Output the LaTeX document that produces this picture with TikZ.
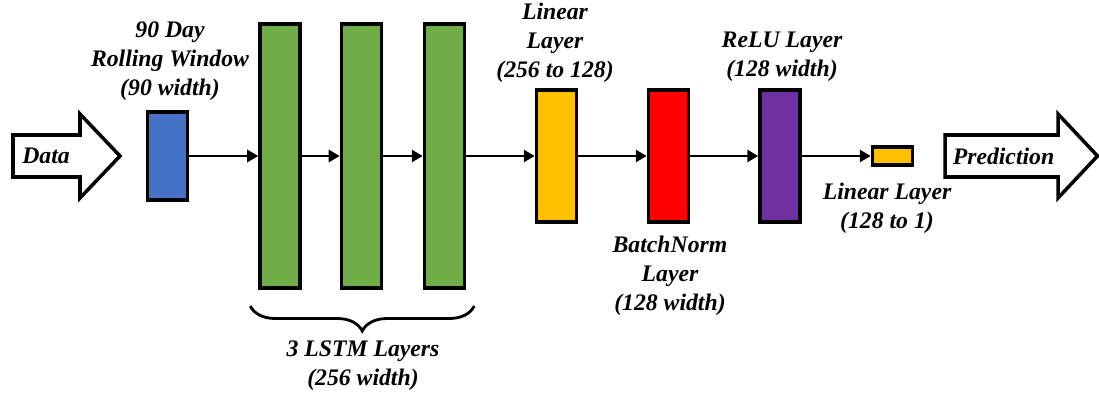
\documentclass[tikz,border=0pt]{standalone}
\usepackage{fontspec}
\setmainfont{Liberation Serif}
\usetikzlibrary{arrows.meta,calc,decorations.pathreplacing}
\definecolor{cwin}{RGB}{68,114,196}
\definecolor{clstm}{RGB}{112,173,71}
\definecolor{clin}{RGB}{255,192,0}
\definecolor{cbn}{RGB}{255,0,0}
\definecolor{crelu}{RGB}{112,48,160}
\tikzset{
  lay/.style={draw, line width=2pt, minimum width=0.8cm, inner sep=0pt},
  lbl/.style={font=\fontsize{13.5}{16.5}\selectfont\bfseries\itshape, align=center, inner sep=0pt},
  con/.style={-{Triangle[length=2.2mm, width=2.4mm]}, line width=1.6pt},
  bigarr/.style={line width=2pt, line join=miter},
  brc/.style={decorate, decoration={brace, mirror, amplitude=5mm}, line width=1.6pt},
}

\begin{document}
\begin{tikzpicture}[x=1cm,y=1cm]
  \useasboundingbox (0,0) rectangle (21.98,7.88);
  % input / output arrows
  \draw[bigarr] (0.26,5.18) -- (1.6,5.18) -- (1.6,5.6) -- (2.4,4.76) -- (1.6,3.92) -- (1.6,4.34) -- (0.26,4.34) -- cycle;
  \node[lbl] (data) at (0.92,4.76) {Data};
  \draw[bigarr] (18.9,5.18) -- (21.16,5.18) -- (21.16,5.6) -- (21.95,4.76) -- (21.16,3.92) -- (21.16,4.34) -- (18.9,4.34) -- cycle;
  \node[lbl] (pred) at (20.07,4.76) {Prediction};
  % layers
  \node[lay, fill=cwin, minimum height=1.77cm] (win) at (3.35,4.76) {};
  \foreach \i/\x in {1/5.6, 2/7.23, 3/8.89}
    \node[lay, fill=clstm, minimum height=5.27cm] (lstm\i) at (\x,4.76) {};
  \node[lay, fill=clin, minimum height=2.63cm] (lin1) at (11.13,4.76) {};
  \node[lay, fill=cbn, minimum height=2.63cm] (bn) at (13.37,4.76) {};
  \node[lay, fill=crelu, minimum height=2.63cm] (relu) at (15.6,4.76) {};
  \node[lay, fill=clin, minimum height=0.37cm] (lin2) at (17.85,4.76) {};
  % connectors
  \draw[con] (win) -- (lstm1);
  \draw[con] (lstm1) -- (lstm2);
  \draw[con] (lstm2) -- (lstm3);
  \draw[con] (lstm3) -- (lin1);
  \draw[con] (lin1) -- (bn);
  \draw[con] (bn) -- (relu);
  \draw[con] (relu) -- (lin2);
  % brace
  \draw[brc] ([xshift=-1.6mm, yshift=-3.3mm]lstm1.south west) -- ([xshift=1.6mm, yshift=-3.3mm]lstm3.south east);
  % labels
  \node[lbl] (winlbl) at (3.4,6.66) {90 Day\\Rolling Window\\(90 width)};
  \node[lbl] (lstmlbl) at (7.26,0.56) {3 LSTM Layers\\(256 width)};
  \node[lbl] (lin1lbl) at (11.1,7.02) {Linear\\Layer\\(256 to 128)};
  \node[lbl] (bnlbl) at (13.4,2.36) {BatchNorm\\Layer\\(128 width)};
  \node[lbl] (relulbl) at (15.64,6.74) {ReLU Layer\\(128 width)};
  \node[lbl] (lin2lbl) at (17.74,3.72) {Linear Layer\\(128 to 1)};
\end{tikzpicture}
\end{document}
